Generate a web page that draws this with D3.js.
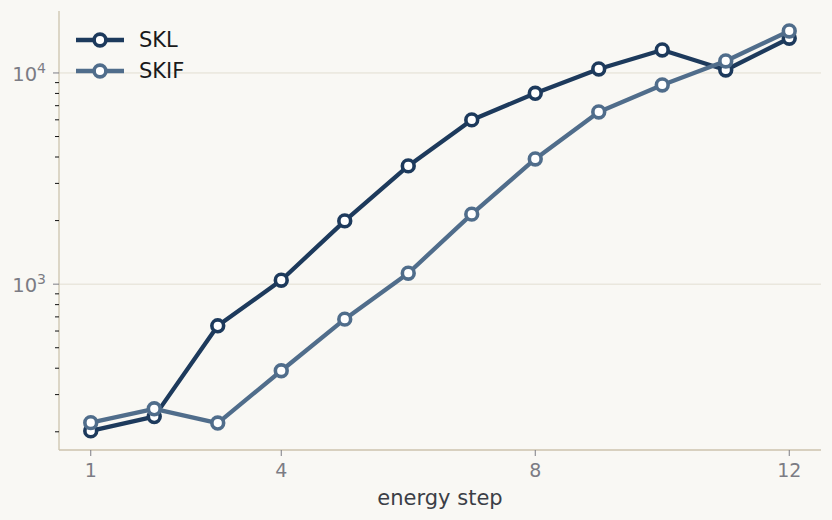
<!DOCTYPE html>
<html><head><meta charset="utf-8">
<script src="https://cdn.jsdelivr.net/npm/d3@7"></script>
<style>
html,body{margin:0;padding:0;background:#f9f8f4;}
svg{display:block;font-family:"DejaVu Sans",sans-serif;}
</style></head>
<body>
<svg id="chart" width="832" height="520"></svg>
<script>
const steps = [1,2,3,4,5,6,7,8,9,10,11,12];
const skl  = [202, 236, 635, 1044, 1993, 3630, 5993, 8013, 10445, 12850, 10332, 14600];
const skif = [221, 257, 220, 389, 683, 1127, 2145, 3917, 6537, 8774, 11398, 15807];
const seriesNames = ["SKL", "SKIF"];
const xTicks = [1, 4, 8, 12];
const yMajor = [1000, 10000];
const yMinor = [200,300,400,500,600,700,800,900,2000,3000,4000,5000,6000,7000,8000,9000];
const xLabel = "energy step";

const colors = ["#1d3a5c", "#506d8b"];
const svg = d3.select("#chart");
svg.append("rect").attr("width",832).attr("height",520).attr("fill","#f9f8f4");

const x = d3.scaleLinear().domain([0.5, 12.5]).range([59, 821]);
const y = d3.scaleLog().domain([164, 19650]).range([450, 11]);

// gridlines
svg.append("g").selectAll("line").data(yMajor).join("line")
  .attr("x1",59).attr("x2",821)
  .attr("y1",d=>y(d)).attr("y2",d=>y(d))
  .attr("stroke","#e2ded2").attr("stroke-width",1);

// axes lines
svg.append("line").attr("x1",59).attr("x2",59).attr("y1",11).attr("y2",450)
  .attr("stroke","#cdc3ae").attr("stroke-width",1.3);
svg.append("line").attr("x1",59).attr("x2",821).attr("y1",450).attr("y2",450)
  .attr("stroke","#cdc3ae").attr("stroke-width",1.3);

// x ticks
const xg = svg.append("g");
xg.selectAll("line").data(xTicks).join("line")
  .attr("x1",d=>x(d)).attr("x2",d=>x(d)).attr("y1",450).attr("y2",456)
  .attr("stroke","#7c7c84").attr("stroke-width",1);
xg.selectAll("text").data(xTicks).join("text")
  .attr("x",d=>x(d)).attr("y",477).attr("text-anchor","middle")
  .attr("font-size",19).attr("fill","#7c7c84").text(d=>d);

// y ticks
const yg = svg.append("g");
yg.selectAll("line.minor").data(yMinor).join("line").attr("class","minor")
  .attr("x1",55).attr("x2",59).attr("y1",d=>y(d)).attr("y2",d=>y(d))
  .attr("stroke","#111").attr("stroke-width",1);
yg.selectAll("line.major").data(yMajor).join("line").attr("class","major")
  .attr("x1",53).attr("x2",59).attr("y1",d=>y(d)).attr("y2",d=>y(d))
  .attr("stroke","#7c7c84").attr("stroke-width",1);
const yt = yg.selectAll("text").data(yMajor).join("text")
  .attr("x",46).attr("y",d=>y(d)+8).attr("text-anchor","end")
  .attr("font-size",19.5).attr("fill","#7c7c84");
yt.append("tspan").text("10");
yt.append("tspan").attr("dy",-8).attr("font-size",14).text(d=>Math.round(Math.log10(d)));

// x label
svg.append("text").attr("x",x(6.5)).attr("y",505).attr("text-anchor","middle")
  .attr("font-size",21).attr("fill","#3b3e46").text(xLabel);

// series
const data = [skl, skif];
const line = d3.line().x((d,i)=>x(steps[i])).y(d=>y(d));
data.forEach((vals, k) => {
  const g = svg.append("g");
  g.append("path").datum(vals).attr("d", line)
    .attr("fill","none").attr("stroke",colors[k]).attr("stroke-width",4.3)
    .attr("stroke-linejoin","round");
  g.selectAll("circle").data(vals).join("circle")
    .attr("cx",(d,i)=>x(steps[i])).attr("cy",d=>y(d)).attr("r",5.9)
    .attr("fill","#ffffff").attr("stroke",colors[k]).attr("stroke-width",3.6);
});

// legend
const lg = svg.append("g");
seriesNames.forEach((name,k) => {
  const ly = 40 + k*31;
  lg.append("line").attr("x1",76).attr("x2",124).attr("y1",ly).attr("y2",ly)
    .attr("stroke",colors[k]).attr("stroke-width",4.3);
  lg.append("circle").attr("cx",100).attr("cy",ly).attr("r",5.9)
    .attr("fill","#ffffff").attr("stroke",colors[k]).attr("stroke-width",3.6);
  lg.append("text").attr("x",139).attr("y",ly+7).attr("font-size",21)
    .attr("fill","#1a1a1a").text(name);
});
</script>
</body></html>
